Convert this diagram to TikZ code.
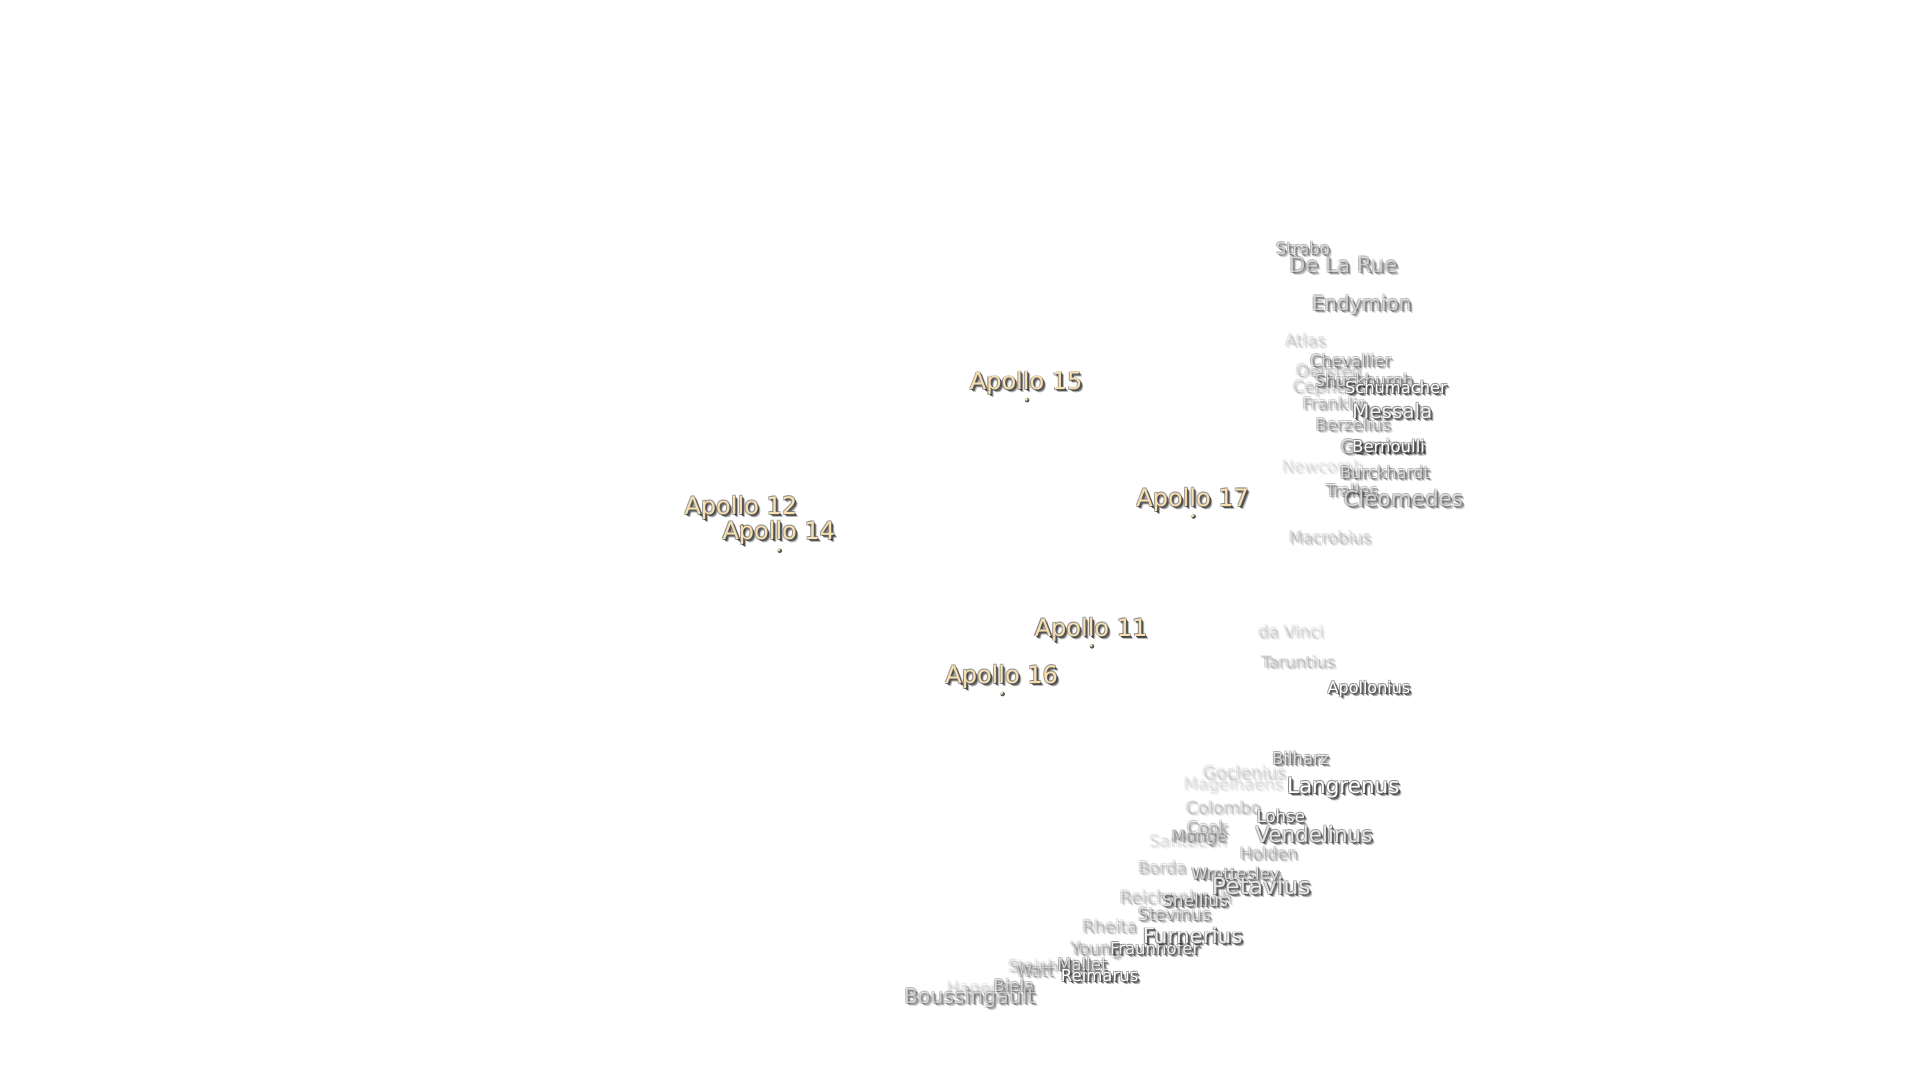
\documentclass[tikz,border=0pt]{standalone}
\usepackage{fontspec}
\setmainfont{DejaVu Sans}
\definecolor{cream}{HTML}{F8E0B0}
\tikzset{lbl/.style={inner sep=0pt,outer sep=0pt,anchor=center,text height=.73em,text depth=.2em}}
\newcommand{\lab}[7][white]{%
 \pgfmathsetmacro{\opa}{#6*.28}\pgfmathsetmacro{\opb}{#6*.55}\pgfmathsetmacro{\opc}{#6*.9}\pgfmathsetmacro{\opd}{#6*.6}\pgfmathsetmacro{\dy}{2-.3*#5}%
 \begin{scope}[yshift=\dy pt,every node/.append style={font=\fontsize{#5pt}{#5pt}\selectfont}]
 \node[lbl,text=black,text opacity=\opa,xshift=3pt,yshift=-3pt] (#2s3) at (#3,#4) {#7};
 \node[lbl,text=black,text opacity=\opb,xshift=2pt,yshift=-2pt] (#2s2) at (#3,#4) {#7};
 \node[lbl,text=black!75,text opacity=\opc,xshift=1pt,yshift=-1pt] (#2s1) at (#3,#4) {#7};
 \node[lbl,text=black!55,text opacity=\opd,xshift=-.8pt,yshift=.8pt] (#2h1) at (#3,#4) {#7};
 \node[lbl,text=black!55,text opacity=\opd,xshift=.8pt,yshift=.8pt] (#2h2) at (#3,#4) {#7};
 \node[lbl,text=black!55,text opacity=\opd,xshift=-.8pt,yshift=-.8pt] (#2h3) at (#3,#4) {#7};
 \node[lbl,text=#1,text opacity=#6] (#2) at (#3,#4) {#7};
 \end{scope}
}
\newcommand{\apdot}[3]{%
 \node[circle,fill=black!65,inner sep=0pt,minimum size=4.6pt,xshift=1pt,yshift=-1pt] (#1s) at (#2,#3) {};
 \node[circle,fill=cream,inner sep=0pt,minimum size=3.4pt] (#1) at (#2,#3) {};
}
\begin{document}
\begin{tikzpicture}[x=1.2245pt,y=-1.2245pt]
\useasboundingbox (0,0) rectangle (1568,882);
% faint labels
\lab{mag}{1007}{640}{16.5}{.10}{Magelhaens}
\lab{san}{970}{687}{16.5}{.10}{Santbech}
\lab{new}{1080}{381}{16.5}{.10}{Newcomb}
\lab{hag}{804}{807}{16.5}{.12}{Hagecius}
\lab{ste}{851}{789}{15.5}{.20}{Steinheil}
\lab{atl}{1066}{278}{16.5}{.15}{Atlas}
\lab{dav}{1054}{516}{16.5}{.15}{da Vinci}
\lab{goc}{1016}{631}{17}{.15}{Goclenius}
\lab{oer}{1085}{303}{16.5}{.20}{Oersted}
\lab{cep}{1085}{316}{16.5}{.20}{Cepheus}
\lab{mac}{1086}{439}{16.2}{.20}{Macrobius}
\lab{tar}{1060}{541}{16.2}{.22}{Taruntius}
\lab{col}{999}{660}{17}{.20}{Colombo}
\lab{bor}{949}{709}{16.5}{.22}{Borda}
\lab{rei}{960}{733}{17.5}{.22}{Reichenbach}
\lab{rhe}{906}{757}{17}{.25}{Rheita}
\lab{fra}{1090}{330}{16.5}{.30}{Franklin}
\lab{hol}{1036}{697}{16.5}{.30}{Holden}
\lab{coo}{986}{676}{16.5}{.35}{Cook}
\lab{mon}{979}{683}{16.5}{.40}{Monge}
\lab{wat}{845}{793}{16.5}{.30}{Watt}
\lab{you}{895}{775}{17}{.35}{Young}
\lab{ber}{1105}{347}{16.5}{.40}{Berzelius}
\lab{stv}{959}{747}{17}{.45}{Stevinus}
\lab{tra}{1104}{401}{16.5}{.45}{Tralles}
\lab{bie}{828}{805}{16.5}{.45}{Biela}
\lab{gem}{1129}{365}{19}{.50}{Geminus}
\lab{che}{1103}{295}{16.2}{.50}{Chevallier}
\lab{bur}{1131}{386}{16.3}{.55}{Burckhardt}
\lab{bou}{792}{814}{20.4}{.50}{Boussingault}
\lab{dlr}{1097}{217}{21.3}{.50}{De La Rue}
\lab{str}{1064}{203}{16.3}{.55}{Strabo}
\lab{end}{1112}{248}{20}{.55}{Endymion}
\lab{shu}{1114}{311}{16.5}{.60}{Shuckburgh}
\lab{cle}{1146}{408}{21.5}{.60}{Cleomedes}
\lab{bil}{1062}{620}{16.5}{.65}{Bilharz}
\lab{wro}{1009}{714}{16.5}{.65}{Wrottesley}
\lab{mal}{884}{788}{16.5}{.65}{Mallet}
\lab{sne}{976}{736}{17}{.75}{Snellius}
\lab{ven}{1073}{682}{21.5}{.80}{Vendelinus}
\lab{pet}{1030}{724}{23.4}{.80}{Petavius}
\lab{frh}{943}{775}{16.5}{.85}{Fraunhofer}
\lab{fur}{974}{765}{21.5}{.90}{Furnerius}
\lab{loh}{1046}{667}{16.5}{.90}{Lohse}
\lab{mes}{1137}{336}{20}{.90}{Messala}
\lab{bern}{1134}{365}{16.5}{1}{Bernoulli}
\lab{sch}{1140}{317}{16.3}{1}{Schumacher}
\lab{apn}{1118}{562}{16}{1}{Apollonius}
\lab{lan}{1097}{642}{21.5}{1}{Langrenus}
\lab{rem}{898}{797}{16.5}{1}{Reimarus}
% Apollo sites
\apdot{d15}{838}{326}
\apdot{d12}{605}{429}
\apdot{d14}{636}{449}
\apdot{d17}{974}{421}
\apdot{d11}{891}{527}
\apdot{d16}{818}{566}
\lab[cream]{a15}{838}{312}{24}{1}{Apollo 15}
\lab[cream]{a12}{605}{414}{24}{1}{Apollo 12}
\lab[cream]{a14}{636}{434}{24}{1}{Apollo 14}
\lab[cream]{a17}{974}{407}{24}{1}{Apollo 17}
\lab[cream]{a11}{891}{513}{24}{1}{Apollo 11}
\lab[cream]{a16}{818}{552}{24}{1}{Apollo 16}
\end{tikzpicture}
\end{document}
